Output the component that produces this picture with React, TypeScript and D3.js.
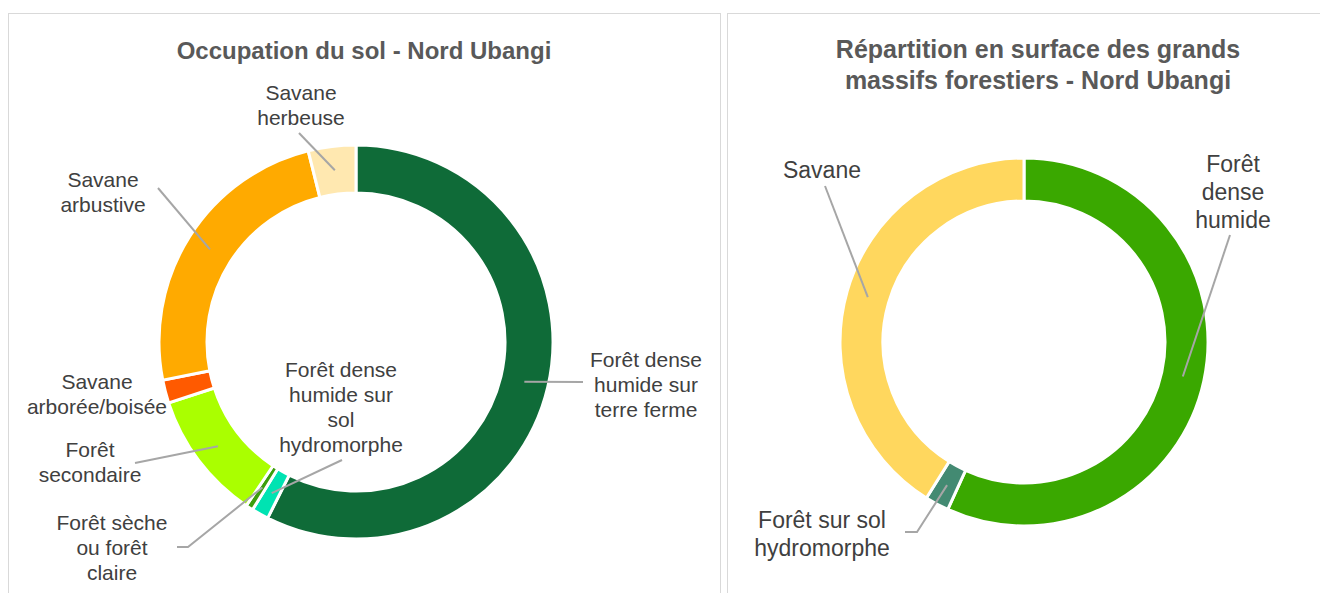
import * as d3 from "d3";

// Occupation du sol (part en %)
const landLabels = [
  "Forêt dense humide sur terre ferme",
  "Forêt dense humide sur sol hydromorphe",
  "Forêt sèche ou forêt claire",
  "Forêt secondaire",
  "Savane arborée/boisée",
  "Savane arbustive",
  "Savane herbeuse",
];
const landValues = [57.4, 1.4, 0.6, 10.6, 1.9, 24.2, 3.9];
const landColors = ["#0f6b38", "#00e3b2", "#3c9e0c", "#aaff00", "#ff5a00", "#ffaa00", "#ffe8b0"];

// Grands massifs forestiers (part en %)
const massifLabels = ["Forêt dense humide", "Forêt sur sol hydromorphe", "Savane"];
const massifValues = [56.8, 2.1, 41.1];
const massifColors = ["#3aa800", "#438a72", "#ffd75e"];

const TEXT = "#404040";
const TITLE = "#595959";
const LEADER = "#a6a6a6";
const FONT = "'Liberation Sans', Arial, sans-serif";

// label layout: text lines, centre x, first baseline, leader start points
interface LabelLayout {
  lines: string[];
  x: number;
  y: number;
  line?: [number, number][];
}

const landLayout: LabelLayout[] = [
  { lines: ["Forêt dense", "humide sur", "terre ferme"], x: 646, y: 367, line: [[583, 382]] },
  { lines: ["Forêt dense", "humide sur", "sol", "hydromorphe"], x: 341, y: 377, line: [[342, 460]] },
  { lines: ["Forêt sèche", "ou forêt", "claire"], x: 112, y: 530, line: [[177, 547], [188, 547]] },
  { lines: ["Forêt", "secondaire"], x: 90, y: 457, line: [[135, 463]] },
  { lines: ["Savane", "arborée/boisée"], x: 97, y: 389 },
  { lines: ["Savane", "arbustive"], x: 103, y: 187, line: [[158, 188]] },
  { lines: ["Savane", "herbeuse"], x: 301, y: 100, line: [[299, 133]] },
];

const massifLayout: LabelLayout[] = [
  { lines: ["Forêt", "dense", "humide"], x: 1233, y: 172, line: [[1230, 235]] },
  { lines: ["Forêt sur sol", "hydromorphe"], x: 822, y: 528, line: [[905, 532], [917, 532]] },
  { lines: ["Savane"], x: 822, y: 178, line: [[825, 186]] },
];

interface DonutProps {
  labels: string[];
  values: number[];
  colors: string[];
  layout: LabelLayout[];
  cx: number;
  cy: number;
  outer: number;
  inner: number;
  fontSize: number;
  lineHeight: number;
}

function Donut({ labels, values, colors, layout, cx, cy, outer, inner, fontSize, lineHeight }: DonutProps) {
  const pie = d3.pie<number>().sort(null).value((d) => d);
  const arcs = pie(values);
  const arc = d3.arc<d3.PieArcDatum<number>>().innerRadius(inner).outerRadius(outer);
  const lineGen = d3.line();

  return (
    <g>
      <g transform={`translate(${cx},${cy})`}>
        {arcs.map((a, i) => (
          <path key={labels[i]} d={arc(a) ?? ""} fill={colors[i]} stroke="#fff" strokeWidth={3} />
        ))}
      </g>
      {arcs.map((a, i) => {
        const lay = layout[i];
        if (!lay.line) return null;
        const [mx, my] = arc.centroid(a);
        const pts: [number, number][] = [...lay.line, [cx + mx, cy + my]];
        return <path key={"l" + i} d={lineGen(pts) ?? ""} fill="none" stroke={LEADER} strokeWidth={2} />;
      })}
      {layout.map((lay, i) => (
        <text key={"t" + i} x={lay.x} y={lay.y} textAnchor="middle" fontSize={fontSize} fill={TEXT} fontFamily={FONT}>
          {lay.lines.map((s, j) => (
            <tspan key={j} x={lay.x} y={lay.y + j * lineHeight}>
              {s}
            </tspan>
          ))}
        </text>
      ))}
    </g>
  );
}

export default function App() {
  return (
    <svg
      width={1320}
      height={593}
      style={{ position: "absolute", left: 0, top: 0, background: "#fff" }}
    >
      {/* panels */}
      <rect x={8.5} y={13.5} width={712} height={620} fill="#fff" stroke="#d9d9d9" strokeWidth={1} />
      <rect x={727.5} y={13.5} width={712} height={620} fill="#fff" stroke="#d9d9d9" strokeWidth={1} />

      <text x={364} y={59} textAnchor="middle" fontSize={24} fontWeight="bold" fill={TITLE} fontFamily={FONT}>
        Occupation du sol - Nord Ubangi
      </text>
      <text textAnchor="middle" fontSize={25} fontWeight="bold" fill={TITLE} fontFamily={FONT}>
        <tspan x={1038} y={58}>Répartition en surface des grands</tspan>
        <tspan x={1038} y={89}>massifs forestiers - Nord Ubangi</tspan>
      </text>

      <Donut
        labels={landLabels}
        values={landValues}
        colors={landColors}
        layout={landLayout}
        cx={356}
        cy={342}
        outer={197}
        inner={149}
        fontSize={21}
        lineHeight={25}
      />
      <Donut
        labels={massifLabels}
        values={massifValues}
        colors={massifColors}
        layout={massifLayout}
        cx={1024}
        cy={342}
        outer={184}
        inner={141}
        fontSize={23}
        lineHeight={28}
      />
    </svg>
  );
}
